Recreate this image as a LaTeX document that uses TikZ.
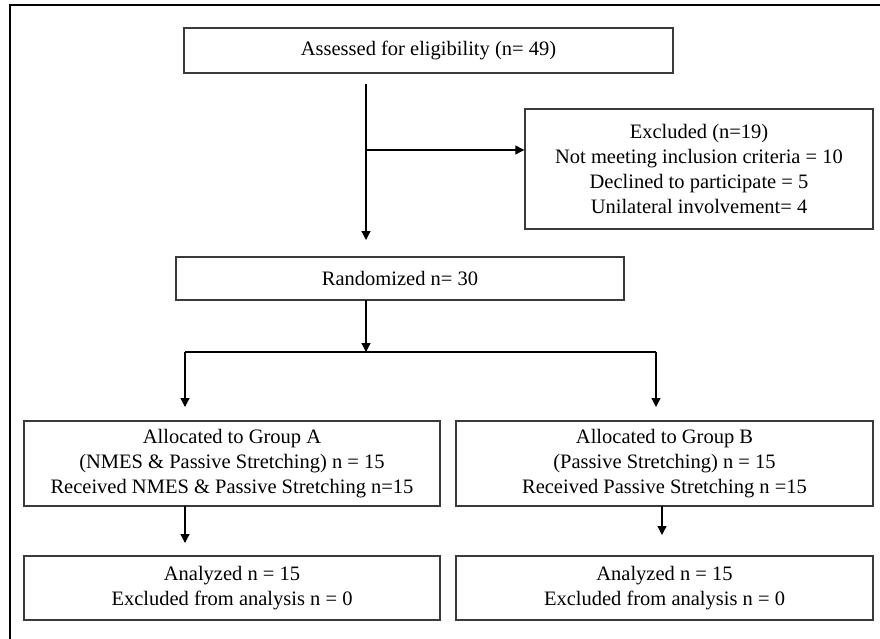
\documentclass[tikz,border=0pt]{standalone}
\usepackage{fontspec}
\setmainfont{Liberation Serif}
\usetikzlibrary{arrows.meta}
\definecolor{edge}{HTML}{3A3A3A}
\tikzset{
  box/.style={draw=edge, line width=1.4pt, rectangle, align=center, inner sep=0pt,
    font=\fontsize{20.5}{25}\selectfont},
  conn/.style={draw=black, line width=1.3pt},
  arr/.style={conn, -{Triangle[length=9pt,width=9pt]}},
  frame/.style={draw=black, line width=2.5pt}
}
\begin{document}
\begin{tikzpicture}[x=1pt,y=-1pt]
\useasboundingbox (0,0) rectangle (880,639);
\draw[frame] (10,639) -- (10,5) -- (880,5);

\node[box, minimum width=489pt, minimum height=45pt] (assess) at (428.5,50.5) {Assessed for eligibility (n= 49)};
\node[box, minimum width=348pt, minimum height=120pt] (excl) at (699,169) {Excluded (n=19)\\Not meeting inclusion criteria = 10\\Declined to participate = 5\\Unilateral involvement= 4};
\node[box, minimum width=448pt, minimum height=43pt] (rand) at (400,278.5) {Randomized n= 30};
\node[box, minimum width=416pt, minimum height=85pt] (grpA) at (232,463.5) {Allocated to Group A\\(NMES \& Passive Stretching) n = 15\\Received NMES \& Passive Stretching n=15};
\node[box, minimum width=417pt, minimum height=85pt] (grpB) at (664.5,463.5) {Allocated to Group B\\(Passive Stretching) n = 15\\Received Passive Stretching n =15};
\node[box, minimum width=416pt, minimum height=64pt] (anaA) at (232,588) {Analyzed n = 15\\Excluded from analysis n = 0};
\node[box, minimum width=417pt, minimum height=64pt] (anaB) at (664.5,588) {Analyzed n = 15\\Excluded from analysis n = 0};

\coordinate (s1) at (366,84);
\coordinate (e1) at (366,240);
\coordinate (j1) at (366,150);
\coordinate (r1) at (366,300);
\coordinate (j2) at (366,352);
\coordinate (bl) at (185,352);
\coordinate (br) at (656,352);
\coordinate (tl) at (185,407);
\coordinate (tr) at (656,407);
\coordinate (a1) at (185,506);
\coordinate (a2) at (185,543);
\coordinate (b1) at (662,506);
\coordinate (b2) at (662,535);

\draw[arr] (s1) -- (e1);
\draw[arr] (j1) -- (j1 -| excl.west);
\draw[arr] (r1) -- (j2);
\draw[conn] (bl) -- (br);
\draw[arr] (bl) -- (tl);
\draw[arr] (br) -- (tr);
\draw[arr] (a1) -- (a2);
\draw[arr] (b1) -- (b2);
\end{tikzpicture}
\end{document}
